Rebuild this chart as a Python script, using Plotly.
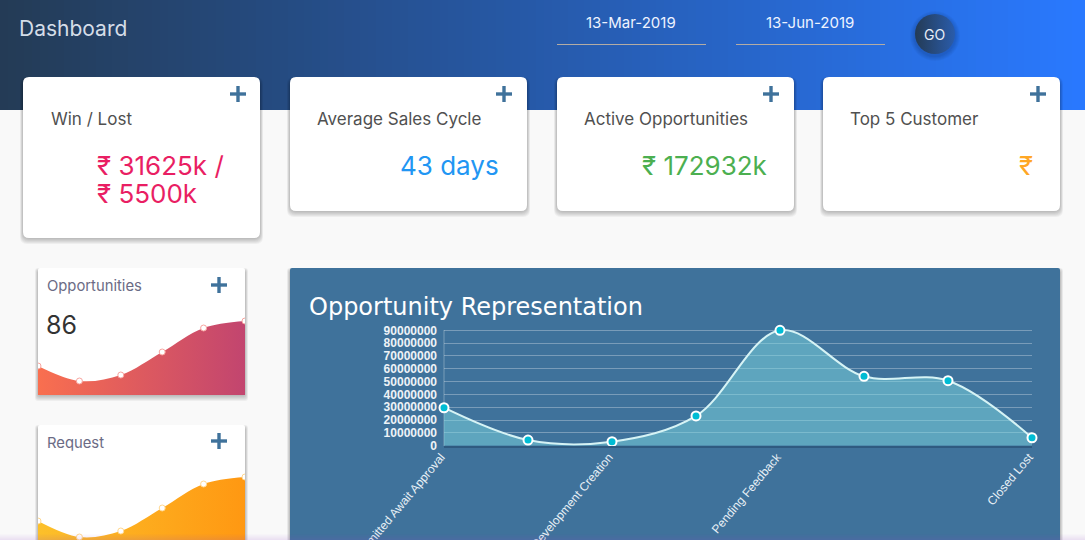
import numpy as np
import plotly.graph_objects as go

W, H = 1085, 540

# main chart
stage_pos = [0, 1, 2, 3, 4, 5, 6, 7]
stage_values = [29600000, 4400000, 3100000, 23200000, 90000000, 54100000, 50700000, 6200000]
tick_pos = [0, 2, 4, 7]
tick_labels = ["Submitted Await Approval", "Development Creation", "Pending Feedback", "Closed Lost"]
y_ticks = [0, 10000000, 20000000, 30000000, 40000000, 50000000, 60000000, 70000000, 80000000, 90000000]

# small cards
spark_pos = [0, 1, 2, 3, 4, 5]
opp_values = [29, 14, 20, 43, 67, 74]
req_values = [31, 15, 21, 44, 68, 75]

LABEL_FONT = "Inter"
BLUE = "#3f729b"

shapes = []
annotations = []


def fx(px):
    return px / W


def fy(py):
    return 1 - py / H


def hex_mix(c1, c2, t):
    a = [int(c1[i:i + 2], 16) for i in (1, 3, 5)]
    b = [int(c2[i:i + 2], 16) for i in (1, 3, 5)]
    return "rgb(%d,%d,%d)" % tuple(round(a[i] + (b[i] - a[i]) * t) for i in range(3))


def rect(x0, y0, x1, y1, color, layer="below"):
    shapes.append(dict(type="rect", xref="paper", yref="paper", x0=fx(x0), x1=fx(x1), y0=fy(y0), y1=fy(y1),
                       fillcolor=color, line_width=0, layer=layer))


def round_rect(x0, y0, x1, y1, r, color):
    p = (f"M {fx(x0 + r)} {fy(y0)} L {fx(x1 - r)} {fy(y0)} Q {fx(x1)} {fy(y0)} {fx(x1)} {fy(y0 + r)} "
         f"L {fx(x1)} {fy(y1 - r)} Q {fx(x1)} {fy(y1)} {fx(x1 - r)} {fy(y1)} "
         f"L {fx(x0 + r)} {fy(y1)} Q {fx(x0)} {fy(y1)} {fx(x0)} {fy(y1 - r)} "
         f"L {fx(x0)} {fy(y0 + r)} Q {fx(x0)} {fy(y0)} {fx(x0 + r)} {fy(y0)} Z")
    shapes.append(dict(type="path", xref="paper", yref="paper", path=p, fillcolor=color, line_width=0, layer="below"))


def card(x0, y0, x1, y1, r=6, color="white"):
    # soft shadow, heavier under the card than at its sides
    for i in range(6, 0, -1):
        round_rect(x0 - i * 0.5, y0 + 3 - i * 0.5, x1 + i * 0.5, y1 + i, r + 1, "rgba(0,0,0,0.045)")
    round_rect(x0, y0, x1, y1, r, color)


def plus(cx, cy, size=16, thick=3.4):
    rect(cx - size / 2, cy - thick / 2, cx + size / 2, cy + thick / 2, BLUE)
    rect(cx - thick / 2, cy - size / 2, cx + thick / 2, cy + size / 2, BLUE)


def text(x, y, s, size, color, anchor="left", family=LABEL_FONT):
    # annotations carry a small padding, take it off so x is where the glyphs start
    nudge = {"left": -3, "right": 3, "center": 0}[anchor]
    annotations.append(dict(x=fx(x + nudge), y=fy(y), xref="paper", yref="paper", text=s, showarrow=False,
                            xanchor=anchor, yanchor="middle", align=anchor,
                            font=dict(family=family, size=size, color=color)))


# header gradient, painted left to right
for px in range(0, W, 8):
    rect(px, 0, min(px + 9, W), 110, hex_mix("#243b55", "#2979ff", (px + 4) / W))

# date pickers
rect(557, 44, 706, 45, "#b4aca4")
rect(736, 44, 885, 45, "#b4aca4")

card(23, 77, 260, 238)
card(290, 77, 527, 211)
card(557, 77, 794, 211)
card(823, 77, 1060, 211)
for cx in [238, 504, 771, 1038]:
    plus(cx, 94)

card(38, 268, 245, 395, r=2)
card(38, 425, 245, 560, r=2)
plus(219, 285)
plus(219, 441)

card(290, 268, 1060, 580, r=2, color=BLUE)
# y axis line, stops at the 90M gridline
rect(443.5, 330, 444.5, 446, "rgba(255,255,255,0.3)")

text(20, 29, "Dashboard", 21, "#d5dde8")
text(631, 22, "13-Mar-2019", 15, "#eef3ff", "center")
text(810, 22, "13-Jun-2019", 15, "#eef3ff", "center")
text(934, 34, "GO", 14, "#e8eef8", "center")

text(52, 119, "Win / Lost", 17, "#505050")
text(318, 119, "Average Sales Cycle", 17, "#505050")
text(585, 119, "Active Opportunities", 17, "#505050")
text(851, 119, "Top 5 Customer", 17, "#505050")

text(98, 165, "₹ 31625k /", 26, "#e91e63")
text(98, 193, "₹ 5500k", 26, "#e91e63")
text(498, 165, "43 days", 26, "#2196f3", "right")
text(766, 165, "₹ 172932k", 26, "#4caf50", "right")
text(1032, 165, "₹", 26, "#ffa726", "right")

text(47.5, 286, "Opportunities", 14.8, "#6b6b85")
text(47, 325, "86", 25, "#333333")
text(47.5, 443, "Request", 14.8, "#6b6b85")
text(310, 307, "Opportunity Representation", 24, "#ffffff", family="DejaVu Sans")

# faint purple glow along the bottom edge of the page
for i in range(6):
    rect(0, 534 + i, W, 535 + i, "rgba(150,70,200,%.3f)" % (0.02 + 0.022 * i), layer="above")

fig = go.Figure()

fig.add_trace(go.Scatter(
    x=stage_pos, y=stage_values, mode="lines+markers", cliponaxis=False,
    line=dict(color="#d6f3f5", width=2, shape="spline", smoothing=1),
    fill="tozeroy", fillcolor="rgba(125,215,225,0.5)",
    marker=dict(color="#00bcd4", size=9, line=dict(color="white", width=2)),
    hoverinfo="skip", xaxis="x", yaxis="y",
))

for vals, ax, mark_line, stops in [
    (opp_values, "2", "#f8a5a0", [[0, "#f96f4f"], [1, "#c2456f"]]),
    (req_values, "3", "#ffd890", [[0, "#fcc02a"], [1, "#ff9812"]]),
]:
    fig.add_trace(go.Scatter(
        x=spark_pos, y=vals, mode="lines+markers",
        line=dict(color="rgba(255,255,255,0)", width=0, shape="spline", smoothing=1),
        fill="tozeroy", fillgradient=dict(type="horizontal", colorscale=stops),
        marker=dict(color="white", size=6, line=dict(color=mark_line, width=1)),
        hoverinfo="skip", xaxis="x" + ax, yaxis="y" + ax,
    ))

# GO button
fig.add_trace(go.Scatter(
    x=[935], y=[34], mode="markers",
    marker=dict(size=40, color="#243b55", line_width=0,
                gradient=dict(type="horizontal", color="#2a5cab")),
    hoverinfo="skip", xaxis="x4", yaxis="y4",
))
for i in range(5, 0, -1):
    shapes.append(dict(type="circle", xref="paper", yref="paper", x0=fx(915 - i), x1=fx(955 + i),
                       y0=fy(14 - i + 2), y1=fy(54 + i + 2), fillcolor="rgba(0,0,0,0.03)", line_width=0, layer="below"))

fig.update_layout(
    width=W, height=H, margin=dict(l=0, r=0, t=0, b=0), autosize=False,
    paper_bgcolor="#f9f9f9", plot_bgcolor="rgba(0,0,0,0)", showlegend=False,
    shapes=shapes, annotations=annotations,
    xaxis=dict(domain=[fx(444), fx(1032)], range=[0, 7], tickmode="array", tickvals=tick_pos, ticktext=tick_labels,
               tickangle=-50, showgrid=False, zeroline=False, ticklabelstandoff=-2, ticklabelshift=-3, automargin=False,
               tickfont=dict(family="Liberation Sans", size=12, color="#e8f0f6"), ticks="",
               anchor="y", showline=True, linecolor="#2f5a80", linewidth=1.5),
    # range runs past 90M, plotly drops a gridline sitting close to the axis end
    yaxis=dict(domain=[fy(445.7), fy(325)], range=[0, 94130000], tickmode="array", tickvals=y_ticks,
               ticktext=["<b>%d</b>" % v for v in y_ticks], automargin=False,
               tickfont=dict(family="Liberation Sans", size=12, color="#eef3f7"), ticks="", ticklabelstandoff=6,
               gridcolor="rgba(255,255,255,0.3)", gridwidth=1, zeroline=False, anchor="x", showline=False),
    xaxis2=dict(domain=[fx(38), fx(245)], range=[0, 5], visible=False, anchor="y2", automargin=False),
    yaxis2=dict(domain=[fy(395), fy(268)], range=[0, 127], visible=False, anchor="x2", automargin=False),
    xaxis3=dict(domain=[fx(38), fx(245)], range=[0, 5], visible=False, anchor="y3", automargin=False),
    yaxis3=dict(domain=[0, fy(425)], range=[12, 127], visible=False, anchor="x3", automargin=False),
    xaxis4=dict(domain=[0, 1], range=[0, W], visible=False, anchor="y4", automargin=False),
    yaxis4=dict(domain=[0, 1], range=[H, 0], visible=False, anchor="x4", automargin=False),
)

fig.write_html("out.html", config=dict(displayModeBar=False),
               post_script="document.body.style.margin='0';document.body.style.overflow='hidden';")
